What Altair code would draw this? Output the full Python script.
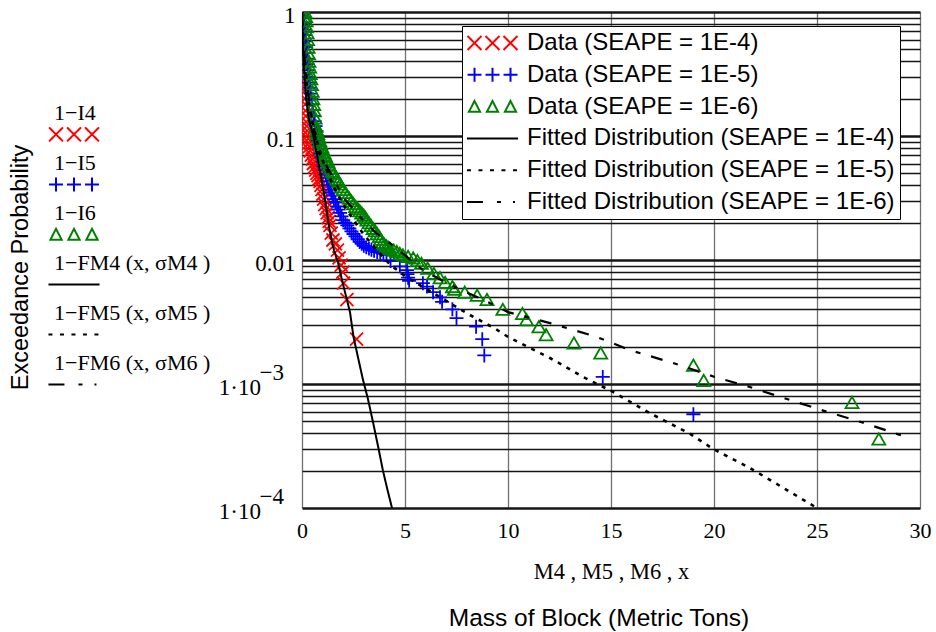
import altair as alt
import pandas as pd

SERIF = "Liberation Serif"
SANS = "Liberation Sans"

# ---- observed block masses (metric tons) and exceedance probabilities ----
# SEAPE = 1E-4
m4_mass = [0.02, 0.03, 0.04, 0.05, 0.06, 0.07, 0.08, 0.09, 0.1, 0.11, 0.12, 0.13, 0.14, 0.155,
           0.17, 0.185, 0.2, 0.225, 0.25, 0.275, 0.3, 0.33, 0.36, 0.4, 0.45, 0.5, 0.55, 0.6,
           0.66, 0.72, 0.78, 0.83, 0.88, 0.92, 0.97, 1.01, 1.05, 1.1, 1.17, 1.22, 1.27, 1.32,
           1.36, 1.42, 1.5, 1.62, 1.72, 1.8, 1.9, 1.98, 2.02, 2.18, 2.65]
m4_exceed = [1.0, 0.85, 0.72, 0.63, 0.55, 0.48, 0.42, 0.37, 0.33, 0.29, 0.26, 0.23, 0.2, 0.18,
             0.16, 0.145, 0.13, 0.12, 0.11, 0.102, 0.095, 0.088, 0.082, 0.076, 0.07, 0.065, 0.06,
             0.056, 0.053, 0.05, 0.048, 0.045, 0.043, 0.04, 0.037, 0.034, 0.031, 0.028, 0.026,
             0.024, 0.022, 0.0205, 0.019, 0.0165, 0.0145, 0.0135, 0.012, 0.0104, 0.0091, 0.008,
             0.0065, 0.0048, 0.0023]

# SEAPE = 1E-5
m5_mass = [0.08, 0.1, 0.12, 0.14, 0.16, 0.18, 0.2, 0.22, 0.25, 0.27, 0.3, 0.33, 0.36, 0.39, 0.42,
           0.46, 0.5, 0.54, 0.58, 0.62, 0.66, 0.7, 0.74, 0.78, 0.82, 0.86, 0.9, 0.95, 1.0, 1.05,
           1.1, 1.15, 1.2, 1.25, 1.3, 1.36, 1.42, 1.48, 1.55, 1.62, 1.7, 1.77, 1.85, 1.92, 2.0,
           2.1, 2.2, 2.3, 2.4, 2.5, 2.6, 2.7, 2.8, 2.9, 3.0, 3.12, 3.25, 3.37, 3.5, 3.65, 3.8,
           3.95, 4.1, 4.3, 4.75, 5.1, 5.12, 5.15, 5.2, 5.87, 6.07, 6.36, 6.7, 6.8, 7.3, 7.5,
           8.45, 8.75, 8.85, 14.6, 19.0]
m5_exceed = [1.0, 0.9, 0.8, 0.72, 0.65, 0.58, 0.52, 0.47, 0.42, 0.38, 0.34, 0.3, 0.27, 0.245,
             0.22, 0.2, 0.18, 0.162, 0.145, 0.132, 0.12, 0.11, 0.1, 0.092, 0.085, 0.078, 0.072,
             0.067, 0.062, 0.057, 0.053, 0.049, 0.046, 0.043, 0.04, 0.037, 0.035, 0.033, 0.031,
             0.029, 0.027, 0.0255, 0.024, 0.0225, 0.021, 0.02, 0.019, 0.018, 0.017, 0.0162,
             0.0155, 0.0147, 0.014, 0.0135, 0.013, 0.0127, 0.0124, 0.0121, 0.0119, 0.0116,
             0.0114, 0.0112, 0.011, 0.0098, 0.0089, 0.0083, 0.0077, 0.0072, 0.0068, 0.0065,
             0.0061, 0.0055, 0.005, 0.0046, 0.004, 0.0034, 0.0029, 0.0023, 0.0017, 0.00114,
             0.00057]

# SEAPE = 1E-6
m6_mass = [0.15, 0.18, 0.2, 0.22, 0.25, 0.27, 0.3, 0.32, 0.34, 0.37, 0.4, 0.43, 0.46, 0.5, 0.53,
           0.57, 0.6, 0.64, 0.68, 0.72, 0.76, 0.81, 0.86, 0.91, 0.96, 1.01, 1.06, 1.1, 1.15, 1.2,
           1.26, 1.33, 1.4, 1.47, 1.55, 1.62, 1.7, 1.77, 1.85, 1.92, 2.0, 2.1, 2.2, 2.3, 2.4,
           2.5, 2.6, 2.7, 2.8, 2.9, 3.0, 3.08, 3.15, 3.25, 3.35, 3.45, 3.55, 3.65, 3.75, 3.82,
           3.9, 4.0, 4.1, 4.18, 4.27, 4.45, 4.6, 4.75, 4.9, 5.15, 5.4, 5.6, 5.8, 6.1, 6.4, 6.7,
           6.95, 7.3, 7.4, 7.9, 8.5, 8.98, 9.75, 10.7, 10.9, 11.5, 11.85, 13.2, 14.5, 19.0,
           19.5, 26.7, 28.0]
m6_exceed = [1.0, 0.92, 0.85, 0.76, 0.68, 0.6, 0.52, 0.46, 0.4, 0.36, 0.32, 0.29, 0.26, 0.23,
             0.2, 0.18, 0.16, 0.14, 0.12, 0.112, 0.105, 0.098, 0.092, 0.087, 0.082, 0.078, 0.074,
             0.071, 0.068, 0.065, 0.062, 0.058, 0.055, 0.052, 0.05, 0.047, 0.045, 0.043, 0.041,
             0.039, 0.037, 0.035, 0.033, 0.0315, 0.03, 0.0285, 0.027, 0.026, 0.025, 0.024, 0.023,
             0.022, 0.021, 0.02, 0.019, 0.018, 0.0172, 0.0163, 0.0155, 0.0147, 0.0138, 0.0134,
             0.013, 0.0127, 0.0124, 0.012, 0.0117, 0.0113, 0.011, 0.0107, 0.0104, 0.0099, 0.0094,
             0.0086, 0.0078, 0.0072, 0.0066, 0.0061, 0.0058, 0.0055, 0.0052, 0.0048, 0.004,
             0.0037, 0.0033, 0.0029, 0.0025, 0.00214, 0.00178, 0.00142, 0.00107, 0.00071, 0.00036]

# ---- fitted distributions, 1 - F(x) ----
fit4_mass = [0.0, 0.02, 0.06, 0.12, 0.2, 0.34, 0.55, 0.7, 0.92, 1.17, 1.31, 1.55, 1.75, 1.94,
             2.33, 2.5, 2.96, 3.2, 3.45, 3.7, 3.93, 4.15, 4.37]
fit4_exceed = [1.0, 0.7, 0.45, 0.3, 0.2, 0.135, 0.1, 0.075, 0.047, 0.027, 0.0185, 0.012, 0.0095,
               0.0069, 0.0038, 0.0024, 0.00108, 0.00076, 0.00049, 0.00031, 0.0002, 0.00014, 0.0001]

fit5_mass = [0.0, 0.05, 0.15, 0.3, 0.5, 0.75, 1.0, 1.5, 2.0, 2.5, 3.0, 3.5, 4.27, 5.0, 8.15, 9.37,
             10.0, 12.04, 13.64, 14.95, 16.9, 18.8, 19.95, 21.75, 25.0]
fit5_exceed = [1.0, 0.55, 0.33, 0.2, 0.13, 0.088, 0.064, 0.04, 0.028, 0.021, 0.016, 0.0128, 0.0092,
               0.0074, 0.0036, 0.0028, 0.0024, 0.00162, 0.00114, 0.00089, 0.00058, 0.0004, 0.0003,
               0.00021, 0.0001]

fit6_mass = [0.0, 0.05, 0.15, 0.3, 0.5, 0.78, 1.31, 2.0, 2.96, 3.6, 4.27, 5.87, 7.2, 9.0, 10.0,
             12.04, 14.3, 15.9, 18.0, 20.1, 21.7, 23.5, 25.3, 27.2, 29.2, 29.5]
fit6_exceed = [1.0, 0.62, 0.38, 0.22, 0.13, 0.075, 0.053, 0.032, 0.021, 0.0165, 0.0137, 0.0083,
               0.0063, 0.0046, 0.0038, 0.0031, 0.0024, 0.00188, 0.00148, 0.00113, 0.00095, 0.00076,
               0.00061, 0.00049, 0.00038, 0.00036]

# ---- axes ----
x_ticks = [0, 5, 10, 15, 20, 25, 30]
y_lines = [0.0001, 0.0002, 0.0003, 0.0004, 0.0005, 0.0006, 0.0007, 0.0008, 0.0009,
           0.001, 0.002, 0.003, 0.004, 0.005, 0.006, 0.007, 0.008, 0.009,
           0.01, 0.02, 0.03, 0.04, 0.05, 0.06, 0.07, 0.08, 0.09,
           0.1, 0.2, 0.3, 0.4, 0.5, 0.6, 0.7, 0.8, 0.9, 1]

# ---- boxed legend ----
legend_labels = ["Data (SEAPE = 1E-4)", "Data (SEAPE = 1E-5)", "Data (SEAPE = 1E-6)",
                 "Fitted Distribution (SEAPE = 1E-4)", "Fitted Distribution (SEAPE = 1E-5)",
                 "Fitted Distribution (SEAPE = 1E-6)"]
legend_colors = ["#ff0000", "#0000ff", "#008000", "black", "black", "black"]

# ---- trace labels beside the y axis ----
trace_labels = ["1\u2212I4", "#I4", "1\u2212I5", "#I5", "1\u2212I6", "#I6",
                "1\u2212FM4 (x, \u03c3M4 )", "#F4", "1\u2212FM5 (x, \u03c3M5 )", "#F5",
                "1\u2212FM6 (x, \u03c3M6 )", "#F6"]
trace_colors = ["black", "#ff0000", "black", "#0000ff", "black", "#008000",
                "black", "black", "black", "black", "black", "black"]


# legend glyphs: three markers side by side, or a short line sample,
# drawn around the point (c, d) in symbol units
def f(v):
    return f"{v:.2f}"


def glyph_x(c, d=0.0):
    return "".join(f"M{f(k-1)},{f(d-1)}L{f(k+1)},{f(d+1)}M{f(k+1)},{f(d-1)}L{f(k-1)},{f(d+1)}"
                   for k in (c - 2.57, c, c + 2.57))


def glyph_plus(c, d=0.0):
    return "".join(f"M{f(k-1)},{f(d)}L{f(k+1)},{f(d)}M{f(k)},{f(d-1)}L{f(k)},{f(d+1)}"
                   for k in (c - 2.57, c, c + 2.57))


def glyph_tri(c, d=0.0):
    return "".join(f"M{f(k)},{f(d-0.8)}L{f(k+0.8)},{f(d+0.75)}L{f(k-0.8)},{f(d+0.75)}Z"
                   for k in (c - 2.57, c, c + 2.57))


def glyph_line(c, d=0.0):
    return f"M{f(c-3.65)},{f(d)}L{f(c+3.65)},{f(d)}"


NONE = "M0,0"
SOLID = [1, 0]
DOTS = [4, 7.5]
DASHDOT = [16, 14, 4, 12, 2, 20]

BOX_C = 1.93
TRACE_C, TRACE_D = 4.43, -0.55
legend_glyphs = [glyph_x(BOX_C), glyph_plus(BOX_C), glyph_tri(BOX_C),
                 glyph_line(BOX_C), glyph_line(BOX_C), glyph_line(BOX_C)]
legend_dashes = [SOLID, SOLID, SOLID, SOLID, DOTS, DASHDOT]
trace_glyphs = [NONE, glyph_x(TRACE_C, TRACE_D), NONE, glyph_plus(TRACE_C, TRACE_D),
                NONE, glyph_tri(TRACE_C, TRACE_D), NONE, glyph_line(TRACE_C, TRACE_D),
                NONE, glyph_line(TRACE_C, TRACE_D), NONE, glyph_line(TRACE_C, TRACE_D)]
trace_dashes = [SOLID, SOLID, SOLID, SOLID, SOLID, SOLID, SOLID, SOLID, SOLID, DOTS, SOLID, DASHDOT]


def table(mass, prob):
    return pd.DataFrame({"mass": mass, "prob": prob})


x_axis = alt.Axis(values=x_ticks, grid=True, gridColor="#707070", gridWidth=1.3, ticks=False,
                  domain=False, labelFont=SERIF, labelFontSize=22, labelColor="black",
                  labelPadding=12, labelFlush=False, labelOverlap=False,
                  title="M4 , M5 , M6 , x", titleFont=SERIF, titleFontSize=22.5,
                  titleFontWeight="normal", titleColor="black", titlePadding=19)

# decade labels; the power of ten is written as a raised exponent line
# (a trailing zero-width space keeps the padding spaces from being trimmed)
SP = "\u00a0"
ZW = "\u200b"
y_label_expr = (
    "datum.value == 1 ? ['', '1'] : datum.value == 0.1 ? ['', '0.1'] : "
    "datum.value == 0.01 ? ['', '0.01'] : "
    f"datum.value == 0.001 ? ['\u22123{SP * 2}{ZW}', '1\u00b710{SP * 6}{ZW}'] : "
    f"datum.value == 0.0001 ? ['\u22124{SP * 2}{ZW}', '1\u00b710{SP * 6}{ZW}'] : ''"
)
decade = ("datum.value == 1 || datum.value == 0.1 || datum.value == 0.01 || "
          "datum.value == 0.001 || datum.value == 0.0001")

y_axis = alt.Axis(values=y_lines, grid=True, gridColor="#151515",
                  gridWidth={"condition": {"test": decade, "value": 2.6}, "value": 1.3},
                  ticks=False, domain=False, labelOverlap=False, labelFlush=False,
                  labelExpr=y_label_expr, labelFont=SERIF, labelFontSize=23, labelColor="black",
                  labelPadding=7, labelLineHeight=15, labelOffset=-11.5,
                  title="Exceedance Probability", titleFont=SANS, titleFontSize=23.5,
                  titleFontWeight="normal", titleColor="black", titleX=-282, titleY=255,
                  titleAngle=270, titleAlign="center", titleBaseline="middle")

x_scale = alt.Scale(domain=[0, 30], nice=False, zero=False)
y_scale = alt.Scale(type="log", domain=[0.0001, 1], nice=False)

base_x = alt.X("mass:Q", scale=x_scale, axis=x_axis)
base_y = alt.Y("prob:Q", scale=y_scale, axis=y_axis)


def markers(mass, prob, glyph, color, size):
    return alt.Chart(table(mass, prob)).mark_point(
        shape=glyph, size=size, filled=False, color=color, strokeWidth=1.8, opacity=1, clip=True
    ).encode(x=base_x, y=base_y)


def curve(mass, prob, dash, width):
    return alt.Chart(table(mass, prob)).mark_line(
        color="black", strokeWidth=width, strokeDash=dash, clip=True
    ).encode(x=base_x, y=base_y, order="mass:Q")


data4 = markers(m4_mass, m4_exceed, "M-1,-1L1,1M1,-1L-1,1", "#ff0000", 169)
data5 = markers(m5_mass, m5_exceed, "M-1,0L1,0M0,-1L0,1", "#0000ff", 196)
data6 = markers(m6_mass, m6_exceed, "triangle-up", "#008000", 169)

line4 = curve(fit4_mass, fit4_exceed, [1, 0], 2)
line5 = curve(fit5_mass, fit5_exceed, [4, 6], 2.6)
line6 = curve(fit6_mass, fit6_exceed, [12, 11, 5, 11], 2.2)

box_legend = alt.Legend(
    title=None, orient="none", legendX=160, legendY=14, direction="vertical", columns=1,
    labelFont=SANS, labelFontSize=24, labelColor="black", labelLimit=800, labelOffset=36,
    symbolSize=196, symbolStrokeWidth=2, symbolOffset=0, symbolOpacity=1,
    padding=5, rowPadding=7.8, fillColor="white", strokeColor="black",
)
box_layer = alt.Chart(pd.DataFrame({"entry": legend_labels})).mark_point(filled=False).encode(
    color=alt.Color("entry:N", scale=alt.Scale(domain=legend_labels, range=legend_colors), legend=box_legend),
    shape=alt.Shape("entry:N", scale=alt.Scale(domain=legend_labels, range=legend_glyphs), legend=box_legend),
    strokeDash=alt.StrokeDash("entry:N", scale=alt.Scale(domain=legend_labels, range=legend_dashes), legend=box_legend),
).transform_filter("false")

# fixed entry height keeps the trace rows evenly spaced
trace_legend = alt.Legend(
    title=None, orient="none", legendX=-270, legendY=90, direction="vertical", columns=1,
    labelFont=SERIF, labelFontSize=22, labelColor="black", labelLimit=800, labelOffset=0,
    labelExpr="indexof(datum.label, '#') == 0 ? '' : datum.label",
    symbolSize=196, symbolStrokeWidth=2, symbolOffset=0, symbolOpacity=1,
    padding=0, rowPadding=2, clipHeight=22.5,
)
trace_layer = alt.Chart(pd.DataFrame({"entry": trace_labels})).mark_point(filled=False).encode(
    color=alt.Color("entry:N", scale=alt.Scale(domain=trace_labels, range=trace_colors), legend=trace_legend),
    shape=alt.Shape("entry:N", scale=alt.Scale(domain=trace_labels, range=trace_glyphs), legend=trace_legend),
    strokeDash=alt.StrokeDash("entry:N", scale=alt.Scale(domain=trace_labels, range=trace_dashes), legend=trace_legend),
).transform_filter("false")

chart = alt.layer(
    data4, data5, data6, line4, line5, line6, box_layer, trace_layer
).resolve_scale(
    color="independent", shape="independent", strokeDash="independent"
).properties(
    width=618, height=496,
    autosize=alt.AutoSizeParams(type="none"),
    padding={"left": 302, "top": 12, "right": 16, "bottom": 124},
    title=alt.TitleParams("Mass of Block (Metric Tons)", orient="bottom", font=SANS, fontSize=24.5,
                          fontWeight="normal", color="black", anchor="middle", dx=-12, offset=24),
).configure_view(
    stroke="black", strokeWidth=2.5
).configure_legend(
    strokeWidth=2
).configure(background="white")

chart.save("out.html", embed_options={"renderer": "svg", "actions": False})
